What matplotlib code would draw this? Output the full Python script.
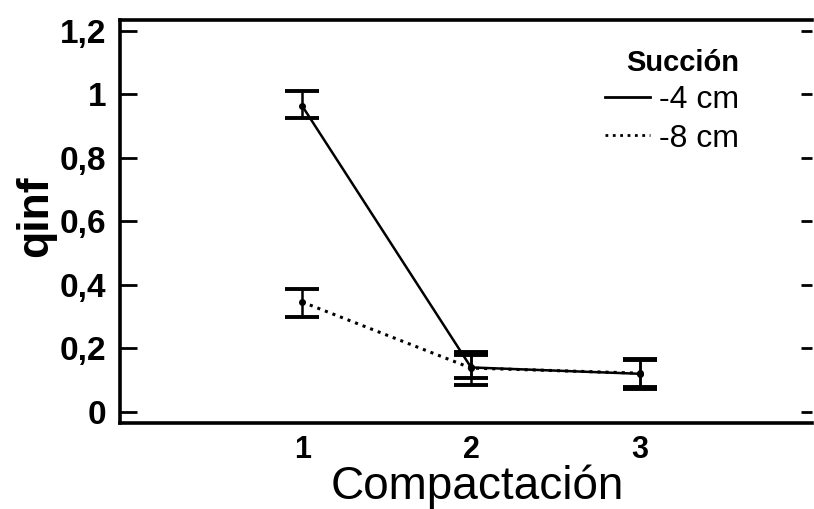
import numpy as np
import matplotlib
matplotlib.use('Agg')
import matplotlib.pyplot as plt
from matplotlib.lines import Line2D

plt.rcParams['font.family'] = ['Liberation Sans', 'DejaVu Sans']

# ---- data ----
compact = [1, 2, 3]
s4_mean = [0.963, 0.140, 0.120]
s4_low = [0.926, 0.108, 0.078]
s4_high = [1.011, 0.178, 0.162]
s8_mean = [0.346, 0.138, 0.122]
s8_low = [0.299, 0.085, 0.072]
s8_high = [0.386, 0.188, 0.168]
yticks = [0, 0.2, 0.4, 0.6, 0.8, 1.0, 1.2]
ytick_labels = ['0', '0,2', '0,4', '0,6', '0,8', '1', '1,2']

fig = plt.figure(figsize=(8.14, 5.09), dpi=100)
ax = fig.add_axes([120/814, 1 - 422.7/509, 692/814, 402.7/509])

for mean, lo, hi, ls in [(s4_mean, s4_low, s4_high, '-'),
                         (s8_mean, s8_low, s8_high, ':')]:
    mean = np.array(mean)
    err = [mean - np.array(lo), np.array(hi) - mean]
    ax.plot(compact, mean, color='k', ls=ls, lw=1.8 if ls == '-' else 2.2)
    ax.errorbar(compact, mean, yerr=err, fmt='o', ms=4, color='k',
                ecolor='k', elinewidth=1.8, capsize=12, capthick=2.8)

ax.set_xlim(-0.08, 4.02)
ax.set_ylim(-0.034, 1.234)
ax.set_xticks(compact)
ax.set_xticklabels([str(c) for c in compact], fontsize=22, fontweight='bold')
ax.set_yticks(yticks)
ax.set_yticklabels(ytick_labels, fontsize=24, fontweight='bold')

ax.tick_params(axis='x', length=0, pad=9)
ax.tick_params(axis='y', direction='in', length=12, width=2, pad=10,
               right=True)
for t in ax.yaxis.get_major_ticks():
    t.tick2line.set_markersize(8)

for side in ['left', 'bottom', 'top']:
    ax.spines[side].set_linewidth(2.6)
ax.spines['right'].set_visible(False)

ax.set_ylabel('qinf', fontsize=32, fontweight='bold')
ax.yaxis.set_label_coords(-0.092, 0.513)
ax.set_xlabel('Compactación', fontsize=33)
ax.xaxis.set_label_coords(0.517, -0.104)
ax.xaxis.label.set_va('top')

handles = [Line2D([], [], color='k', lw=2, ls='-'),
           Line2D([], [], color='k', lw=2, ls=':')]
leg = ax.legend(handles, ['-4 cm', '-8 cm'], title='Succión',
                frameon=False, fontsize=23, handlelength=1.4,
                handletextpad=0.3, labelspacing=0.26, borderpad=0,
                loc='upper left', bbox_to_anchor=(589/814, 1 - 33/509),
                bbox_transform=fig.transFigure, alignment='right',
                title_fontproperties={'weight': 'bold', 'size': 21})

fig.savefig('out.png', dpi=100)
